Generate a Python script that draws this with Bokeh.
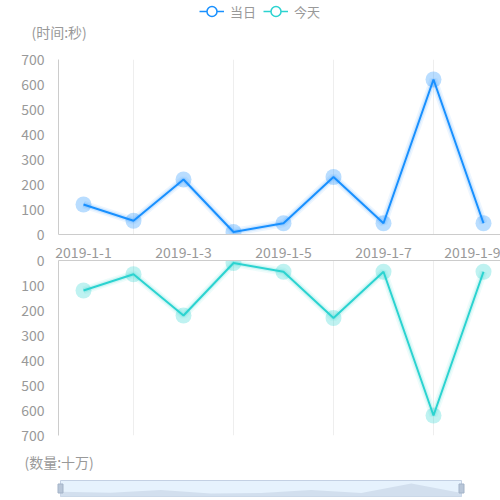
from bokeh.plotting import figure
from bokeh.layouts import column
from bokeh.models import Range1d, FixedTicker, Legend, LegendItem, Label
from bokeh.embed import file_html
from bokeh.resources import INLINE

# Data
dates = ["2019-1-1", "2019-1-2", "2019-1-3", "2019-1-4", "2019-1-5",
         "2019-1-6", "2019-1-7", "2019-1-8", "2019-1-9"]
dangri = [120, 55, 220, 10, 45, 230, 45, 620, 45]     # 当日 (时间:秒)
jintian = [120, 55, 220, 10, 45, 230, 45, 620, 45]    # 今天 (数量:十万)
y_ticks = [0, 100, 200, 300, 400, 500, 600, 700]

idx = list(range(len(dates)))
label_ticks = idx[0::2]
grid_ticks = idx[1::2]

FONT = "Noto Sans CJK SC"
GREY = "#999999"
BLUE = "#1890ff"
CYAN = "#2bd3d0"
W = 500


def bare(p):
    p.outline_line_color = None
    p.grid.grid_line_color = None


def style(p):
    p.outline_line_color = None
    p.ygrid.grid_line_color = None
    p.xgrid.ticker = FixedTicker(ticks=grid_ticks)
    p.xgrid.grid_line_color = "#eeeeee"
    p.yaxis.ticker = FixedTicker(ticks=y_ticks)
    p.yaxis.major_tick_line_color = None
    p.yaxis.minor_tick_line_color = None
    p.yaxis.major_label_standoff = 8
    p.axis.axis_line_color = "#cccccc"
    p.axis.major_label_text_color = GREY
    p.axis.major_label_text_font = FONT
    p.axis.major_label_text_font_size = "14px"
    p.xaxis.major_tick_line_color = None
    p.xaxis.minor_tick_line_color = None


def series(p, vals, color):
    p.line(idx, vals, color=color, line_width=8, line_alpha=0.08)
    p.line(idx, vals, color=color, line_width=4.5, line_alpha=0.15)
    p.line(idx, vals, color=color, line_width=2)
    p.scatter(idx, vals, size=16, fill_color=color, fill_alpha=0.3, line_color=None)


common = dict(output_backend="svg", toolbar_location=None, frame_align=False)

# header: legend + axis name
head = figure(width=W, height=45, x_range=Range1d(0, 1), y_range=Range1d(0, 1),
              x_axis_location=None, y_axis_location=None,
              min_border_left=0, min_border_right=0, min_border_top=0, min_border_bottom=0,
              **common)
bare(head)
# legend icons only (hidden renderers)
l1 = head.line(idx, dangri, color=BLUE, line_width=1.5, visible=False)
s1 = head.scatter(idx, dangri, fill_color="white", line_color=BLUE, line_width=1.5, visible=False)
l2 = head.line(idx, jintian, color=CYAN, line_width=1.5, visible=False)
s2 = head.scatter(idx, jintian, fill_color="white", line_color=CYAN, line_width=1.5, visible=False)
legend = Legend(items=[LegendItem(label="当日", renderers=[l1, s1]),
                       LegendItem(label="今天", renderers=[l2, s2])],
                location=(199, 21), orientation="horizontal",
                padding=0, margin=0, spacing=7, label_standoff=6,
                glyph_width=25, glyph_height=26, label_height=13,
                label_text_font=FONT, label_text_font_size="13px", label_text_color=GREY,
                border_line_color=None, background_fill_alpha=0, inactive_fill_alpha=0)
head.add_layout(legend)
head.add_layout(Label(x=31, y=14, x_units="screen", y_units="screen", text="(时间:秒)",
                      text_font=FONT, text_font_size="14px", text_color=GREY,
                      text_baseline="middle"))

x_range = Range1d(-0.5, 8.34)

# top chart
top = figure(width=W, height=198, x_range=x_range, y_range=Range1d(0, 700),
             min_border_left=58, min_border_right=0, min_border_top=14, min_border_bottom=9,
             **common)
style(top)
top.xaxis.ticker = FixedTicker(ticks=[])
top.xaxis.major_label_standoff = 0
series(top, dangri, BLUE)

# bottom chart (inverted)
bot = figure(width=W, height=202, x_range=x_range, y_range=Range1d(700, 0),
             x_axis_location="above",
             min_border_left=58, min_border_right=0, min_border_top=17, min_border_bottom=10,
             **common)
style(bot)
bot.xaxis.ticker = FixedTicker(ticks=label_ticks)
bot.xaxis.major_label_overrides = {i: dates[i] for i in label_ticks}
bot.xaxis.major_label_standoff = -3
series(bot, jintian, CYAN)

# data zoom slider
ZH = 55
spread = (max(dangri) - min(dangri)) * 0.3
lo, hi = min(dangri) - spread, max(dangri) + spread
k = (hi - lo) / 16
zoom = figure(width=W, height=ZH, x_range=Range1d(-60 / 50.125, (W - 60) / 50.125),
              y_range=Range1d(lo - 4 * k, hi + (ZH - 20) * k),
              x_axis_location=None, y_axis_location=None,
              min_border_left=0, min_border_right=0, min_border_top=0, min_border_bottom=0,
              **common)
bare(zoom)
zoom.quad(left=0, right=len(dates) - 1, bottom=lo, top=hi,
          fill_color="#e6f2fd", line_color="#c3d0e3")
zoom.varea(idx, y1=lo, y2=dangri, fill_color="#d2dfee")
zoom.rect([0, len(dates) - 1], [(lo + hi) / 2] * 2, width=5, height=9,
          width_units="screen", height_units="screen",
          fill_color="#b8c6d8", line_color="#a3b3c8")
zoom.add_layout(Label(x=24, y=39, x_units="screen", y_units="screen", text="(数量:十万)",
                      text_font=FONT, text_font_size="14px", text_color=GREY,
                      text_baseline="middle"))

layout = column(head, top, bot, zoom)

open("out.html", "w").write(file_html(layout, INLINE))
